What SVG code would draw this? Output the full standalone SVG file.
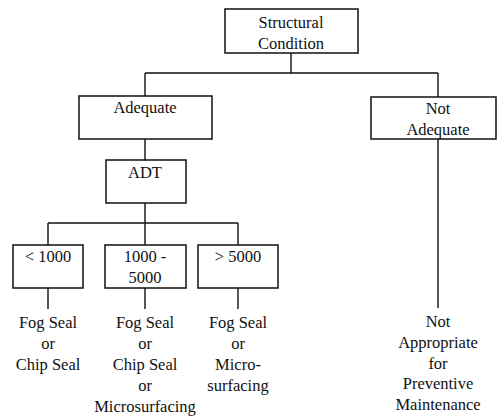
<svg xmlns="http://www.w3.org/2000/svg" width="497" height="419" viewBox="0 0 497 419">
<style>
.box{fill:#fff;stroke:#111;stroke-width:1.5}
.ln{stroke:#111;stroke-width:1.4;fill:none}
text{font-family:"Liberation Serif","Times New Roman",serif;font-size:16.5px;fill:#111;text-anchor:middle}
</style>
<rect width="497" height="419" fill="#fff"/>
<g id="connectors">
<path class="ln" d="M291 53V73M145 73H438M145 73V96M438 73V97M145 139V160M438 139V308M145 203V223M48 223H238M48 223V245M145 223V245M238 223V245M48 288V309M145 288V309M238 288V309"/>
</g>
<g id="structural"><rect class="box" x="225" y="9" width="133" height="44"/><text x="291" y="28">Structural</text><text x="291" y="49">Condition</text></g>
<g id="adequate"><rect class="box" x="79" y="96" width="133" height="43"/><text x="145" y="113">Adequate</text></g>
<g id="not-adequate"><rect class="box" x="371" y="97" width="125" height="42"/><text x="438" y="114">Not</text><text x="438" y="135">Adequate</text></g>
<g id="adt"><rect class="box" x="106" y="160" width="80" height="43"/><text x="145" y="178">ADT</text></g>
<g id="lt1000"><rect class="box" x="13" y="245" width="70" height="43"/><text x="48" y="262">&lt; 1000</text></g>
<g id="mid"><rect class="box" x="105" y="245" width="81" height="43"/><text x="145" y="262">1000 -</text><text x="145" y="283">5000</text></g>
<g id="gt5000"><rect class="box" x="198" y="245" width="80" height="43"/><text x="238" y="262">&gt; 5000</text></g>
<g id="res1"><text x="48" y="328">Fog Seal</text><text x="48" y="349">or</text><text x="48" y="370">Chip Seal</text></g>
<g id="res2"><text x="145" y="328">Fog Seal</text><text x="145" y="349">or</text><text x="145" y="370">Chip Seal</text><text x="145" y="391">or</text><text x="145" y="412">Microsurfacing</text></g>
<g id="res3"><text x="238" y="328">Fog Seal</text><text x="238" y="349">or</text><text x="238" y="370">Micro-</text><text x="238" y="391">surfacing</text></g>
<g id="res4"><text x="438" y="327">Not</text><text x="438" y="348">Appropriate</text><text x="438" y="369">for</text><text x="438" y="389">Preventive</text><text x="438" y="410">Maintenance</text></g>
</svg>
